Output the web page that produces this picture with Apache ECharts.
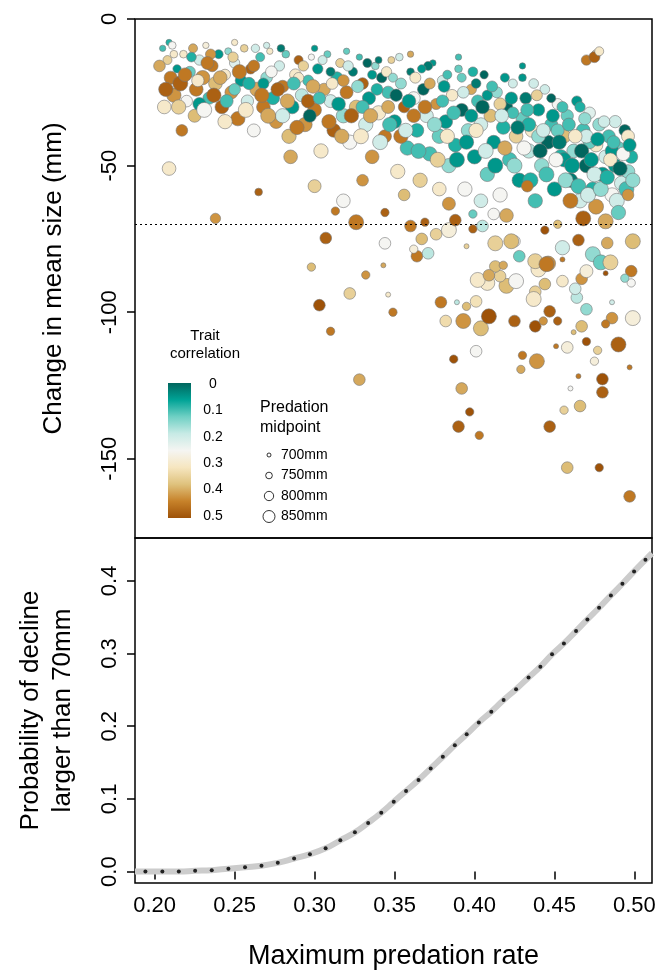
<!DOCTYPE html>
<html>
<head>
<meta charset="utf-8">
<script src="https://cdn.jsdelivr.net/npm/echarts@6/dist/echarts.min.js"></script>
<style>html,body{margin:0;padding:0;background:#fff}#main{width:661px;height:971px}</style>
</head>
<body>
<div id="main"></div>
<script>
// [predation rate, change in mean size, trait correlation, predation midpoint]
var bandPoints = [
[0.205,-10,0.1,720],[0.208,-14,0.35,760],[0.210,-20,0.45,820],[0.212,-26,0.42,840],[0.206,-30,0.3,830],[0.214,-17,0.05,750],[0.209,-8,0.08,720],[0.216,-22,0.48,850],[0.218,-12,0.3,740],[0.220,-28,0.25,800],
[0.222,-18,0.12,790],[0.224,-10,0.4,760],[0.226,-24,0.45,830],[0.225,-33,0.38,820],[0.228,-14,0.2,780],[0.230,-20,0.42,840],[0.232,-9,0.28,720],[0.234,-27,0.1,810],[0.236,-16,0.45,800],[0.238,-22,0.38,830],
[0.240,-12,0.05,760],[0.242,-30,0.48,830],[0.244,-19,0.3,790],[0.246,-11,0.15,730],[0.248,-25,0.42,820],[0.250,-15,0.22,780],[0.252,-34,0.45,840],[0.254,-21,0.05,800],[0.256,-10,0.35,740],[0.258,-28,0.2,810],
[0.260,-17,0.48,780],[0.262,-38,0.25,820],[0.264,-24,0.4,840],[0.266,-13,0.1,760],[0.268,-30,0.45,830],[0.270,-20,0.15,800],[0.272,-11,0.3,720],[0.274,-27,0.08,820],[0.276,-35,0.42,830],[0.278,-16,0.2,780],
[0.280,-23,0.45,810],[0.282,-12,0.12,740],[0.284,-40,0.38,840],[0.286,-30,0.05,830],[0.288,-19,0.3,800],[0.290,-14,0.48,760],[0.292,-26,0.18,820],[0.294,-36,0.42,840],[0.296,-21,0.1,790],[0.298,-13,0.25,720],
[0.300,-31,0.45,830],[0.302,-17,0.05,780],[0.304,-45,0.3,840],[0.306,-24,0.4,810],[0.308,-12,0.12,730],[0.310,-28,0.2,820],[0.312,-38,0.48,830],[0.314,-20,0.08,800],[0.316,-15,0.35,760],[0.318,-33,0.15,840],
[0.320,-25,0.45,820],[0.322,-42,0.25,840],[0.324,-18,0.02,760],[0.326,-30,0.38,830],[0.328,-13,0.1,720],[0.330,-22,0.48,800],[0.332,-36,0.2,840],[0.334,-27,0.05,820],[0.336,-47,0.42,830],[0.338,-16,0.15,740],
[0.340,-32,0.3,840],[0.342,-20,0.0,780],[0.344,-40,0.45,820],[0.346,-25,0.1,810],[0.348,-14,0.35,730],[0.350,-35,0.05,830],[0.352,-52,0.3,840],[0.354,-22,0.15,790],[0.356,-30,0.48,800],[0.358,-44,0.1,840],
[0.360,-18,0.02,740],[0.362,-27,0.25,820],[0.364,-38,0.08,830],[0.366,-55,0.35,840],[0.368,-24,0.0,800],[0.370,-33,0.2,830],[0.372,-46,0.1,840],[0.374,-15,0.05,720],[0.376,-29,0.42,790],[0.378,-40,0.12,840],
[0.380,-21,0.2,780],[0.382,-35,0.05,830],[0.384,-50,0.15,840],[0.386,-26,0.3,800],[0.388,-43,0.08,830],[0.390,-17,0.12,740],[0.392,-31,0.0,820],[0.394,-58,0.25,840],[0.396,-38,0.15,830],[0.398,-24,0.4,780],
[0.400,-47,0.05,840],[0.402,-28,0.1,810],[0.404,-36,0.2,830],[0.406,-19,0.0,750],[0.408,-53,0.12,840],[0.410,-33,0.38,820],[0.412,-42,0.05,830],[0.414,-25,0.15,790],[0.416,-60,0.25,840],[0.418,-37,0.08,830],
[0.420,-30,0.0,810],[0.422,-48,0.1,840],[0.424,-22,0.2,760],[0.426,-40,0.35,830],[0.428,-55,0.05,840],[0.430,-34,0.12,820],[0.432,-27,0.02,800],[0.434,-45,0.18,840],[0.436,-38,0.3,830],[0.438,-62,0.1,840],
[0.440,-31,0.05,810],[0.442,-50,0.15,840],[0.444,-24,0.2,770],[0.446,-42,0.0,830],[0.448,-36,0.1,820],[0.450,-58,0.05,840],[0.452,-29,0.25,790],[0.454,-47,0.08,840],[0.456,-40,0.38,830],[0.458,-33,0.12,810],
[0.460,-55,0.02,840],[0.462,-45,0.15,830],[0.464,-28,0.05,780],[0.466,-62,0.2,840],[0.468,-38,0.1,830],[0.470,-50,0.0,840],[0.472,-32,0.22,800],[0.474,-58,0.08,840],[0.476,-43,0.3,830],[0.478,-36,0.15,820],
[0.480,-53,0.05,840],[0.482,-47,0.2,830],[0.484,-40,0.1,820],[0.486,-60,0.25,840],[0.488,-50,0.05,830],[0.490,-44,0.12,820],[0.492,-56,0.2,840],[0.494,-38,0.0,800],[0.496,-52,0.15,830],[0.498,-47,0.08,820],
[0.212,-12,0.3,740],[0.228,-29,0.05,820],[0.244,-35,0.3,840],[0.262,-16,0.45,800],[0.280,-33,0.2,840],[0.296,-28,0.48,830],[0.318,-21,0.42,800],[0.336,-19,0.05,760],[0.354,-40,0.45,840],[0.372,-22,0.4,790],
[0.392,-20,0.12,760],[0.408,-26,0.05,780],[0.424,-32,0.1,800],[0.440,-40,0.15,830],[0.456,-48,0.05,840],[0.472,-42,0.12,820],[0.488,-35,0.2,810],[0.430,-20,0.05,740],[0.448,-27,0.0,760],[0.466,-30,0.08,780],
[0.235,-12,0.42,780],[0.250,-24,0.12,800],[0.268,-22,0.05,790],[0.290,-20,0.3,780],[0.310,-18,0.02,760],[0.330,-30,0.1,820],[0.346,-30,0.4,820],[0.362,-33,0.45,830],[0.380,-28,0.1,810],[0.398,-33,0.05,820],
[0.416,-29,0.35,810],[0.434,-36,0.08,830],[0.452,-38,0.12,820],[0.470,-40,0.2,830],[0.486,-45,0.05,830],[0.496,-40,0.3,820],[0.470,-14,0.45,780],[0.476,-12,0.3,760],[0.430,-16,0.05,720],[0.390,-13,0.1,720],
[0.360,-12,0.4,720],[0.340,-14,0.02,730],[0.320,-11,0.12,720],[0.300,-10,0.05,720],[0.270,-9,0.2,720],[0.250,-8,0.3,720],[0.460,-62,0.45,850],[0.468,-68,0.48,850],[0.476,-64,0.42,850],[0.482,-69,0.4,850],
[0.203,-16,0.4,800],[0.207,-24,0.48,840],[0.211,-9,0.25,740],[0.215,-30,0.35,840],[0.219,-19,0.45,830],[0.223,-13,0.08,770],[0.227,-21,0.3,810],[0.231,-31,0.25,850],[0.233,-15,0.45,820],[0.237,-26,0.48,840],
[0.241,-20,0.4,830],[0.245,-28,0.1,820],[0.249,-13,0.35,780],[0.253,-18,0.45,840],[0.257,-31,0.3,850],[0.259,-22,0.08,810],[0.263,-10,0.2,750],[0.267,-26,0.45,840],[0.271,-33,0.4,850],[0.273,-18,0.25,800],
[0.277,-24,0.48,830],[0.279,-10,0.02,740],[0.283,-28,0.4,840],[0.287,-22,0.1,820],[0.289,-37,0.45,840],[0.293,-16,0.35,780],[0.297,-33,0.0,820],[0.299,-23,0.4,830],[0.303,-27,0.1,810],[0.305,-14,0.2,760],
[0.309,-35,0.45,840],[0.311,-22,0.3,800],[0.315,-29,0.05,830],[0.317,-40,0.4,840],[0.321,-16,0.2,780],[0.323,-33,0.48,840],[0.327,-23,0.15,810],[0.329,-40,0.3,850],[0.333,-15,0.0,760],[0.335,-33,0.4,840],
[0.339,-24,0.08,800],[0.341,-42,0.2,850],[0.345,-18,0.3,780],[0.347,-36,0.1,840],[0.351,-26,0.0,810],[0.353,-13,0.2,740],[0.357,-38,0.2,840],[0.359,-28,0.05,830],[0.363,-20,0.3,790],[0.365,-45,0.1,850],
[0.369,-30,0.45,830],[0.371,-16,0.02,760],[0.375,-36,0.15,840],[0.377,-48,0.35,850],[0.381,-23,0.05,800],[0.383,-40,0.3,840],[0.387,-32,0.1,830],[0.389,-48,0.05,850],[0.393,-25,0.2,800],[0.395,-42,0.05,840],
[0.399,-18,0.08,770],[0.401,-38,0.3,840],[0.405,-30,0.0,830],[0.407,-45,0.2,850],[0.411,-23,0.1,790],[0.413,-50,0.05,850],[0.417,-33,0.2,830],[0.419,-44,0.4,840],[0.423,-27,0.05,810],[0.425,-50,0.15,850],
[0.427,-37,0.02,830],[0.431,-44,0.25,840],[0.433,-31,0.1,820],[0.435,-55,0.08,850],[0.439,-26,0.35,790],[0.441,-45,0.0,840],[0.443,-38,0.2,830],[0.445,-53,0.1,850],[0.449,-33,0.05,820],[0.451,-48,0.25,840],
[0.453,-42,0.02,840],[0.457,-55,0.15,850],[0.459,-36,0.1,820],[0.461,-50,0.05,850],[0.463,-40,0.3,830],[0.465,-57,0.1,850],[0.467,-45,0.0,840],[0.469,-34,0.15,810],[0.471,-60,0.2,850],[0.473,-48,0.05,840],
[0.475,-53,0.2,850],[0.477,-41,0.05,830],[0.479,-58,0.15,850],[0.481,-35,0.2,800],[0.483,-54,0.08,840],[0.485,-48,0.3,830],[0.487,-42,0.1,820],[0.489,-62,0.2,850],[0.491,-51,0.0,840],[0.493,-46,0.25,830],
[0.495,-58,0.1,850],[0.497,-43,0.05,820],[0.499,-55,0.15,840],[0.455,-30,0.1,790],[0.437,-22,0.2,770],[0.419,-20,0.05,760],[0.401,-22,0.02,770],[0.383,-19,0.1,760],[0.367,-17,0.05,750],[0.349,-20,0.15,760]
];
var sparsePoints = [
[0.307,-74.7,0.48,800],[0.344,-76.5,0.25,800],[0.298,-84.6,0.38,750],[0.332,-87.3,0.42,750],[0.343,-84,0.40,700],[0.322,-93.6,0.35,800],[0.346,-94,0.30,700],[0.303,-97.6,0.5,800],[0.349,-100,0.45,750],[0.310,-106.5,0.45,750],
[0.328,-123,0.40,800],[0.379,-96.6,0.45,800],[0.389,-96.6,0.18,700],[0.395,-98,0.38,750],[0.401,-96.3,0.32,800],[0.382,-103,0.33,800],[0.393,-103,0.42,850],[0.404,-105.5,0.38,850],[0.409,-101.4,0.5,850],[0.425,-103,0.48,800],
[0.438,-104.8,0.5,800],[0.443,-103,0.42,750],[0.452,-103,0.48,750],[0.447,-99.7,0.48,800],[0.467,-104.8,0.38,800],[0.462,-106.8,0.38,700],[0.470,-110,0.5,750],[0.451,-111.6,0.45,700],[0.458,-112,0.28,800],[0.477,-113,0.35,750],
[0.490,-111,0.48,850],[0.475,-116.7,0.28,750],[0.486,-102,0.42,800],[0.499,-102,0.28,850],[0.482,-104,0.45,750],[0.401,-113.3,0.25,800],[0.387,-116,0.5,750],[0.430,-114.7,0.45,750],[0.439,-116.7,0.42,850],[0.429,-119.5,0.4,750],
[0.465,-121.8,0.45,700],[0.480,-122.8,0.5,800],[0.480,-127.3,0.48,800],[0.460,-126,0.25,700],[0.497,-118.8,0.45,700],[0.392,-126,0.40,800],[0.466,-132,0.38,800],[0.456,-133.4,0.35,750],[0.397,-134,0.5,750],[0.390,-139,0.48,800],
[0.403,-142,0.45,750],[0.447,-139,0.48,800],[0.458,-153,0.38,800],[0.478,-153,0.5,750],[0.497,-162.8,0.45,800],[0.498,-86,0.45,800],[0.498,-90,0.25,750],[0.486,-96.6,0.2,700],[0.470,-99,0.15,800],[0.464,-95,0.18,800],
[0.463,-92,0.2,800],[0.455,-89.4,0.3,800],[0.467,-88.6,0.42,800],[0.444,-90.4,0.38,800],[0.438,-93,0.35,800],[0.437,-95.5,0.30,850],[0.420,-91,0.38,850],[0.426,-89.4,0.25,850],[0.408,-90,0.30,850],[0.402,-89,0.30,850],
[0.416,-87.7,0.35,800],[0.413,-84.4,0.38,800],[0.418,-84,0.40,750],[0.409,-87.4,0.4,800],[0.440,-85.4,0.3,850],[0.446,-83.4,0.42,850],[0.428,-80.9,0.12,800],[0.438,-82.6,0.35,850],[0.455,-82,0.45,700],[0.425,-75.8,0.25,800],
[0.423,-75.8,0.38,850],[0.413,-76.5,0.35,850],[0.445,-83.6,0.45,850],[0.395,-77.5,0.35,700],[0.364,-80.9,0.45,800],[0.371,-79.9,0.18,800],[0.362,-78.5,0.28,750],[0.367,-75,0.38,800],[0.376,-73.4,0.35,800],[0.384,-72,0.28,850],
[0.360,-70.6,0.45,800],[0.369,-69.3,0.48,750],[0.388,-68.6,0.48,800],[0.399,-71.6,0.48,750],[0.405,-70.6,0.18,800],[0.465,-75.4,0.48,800],[0.474,-80.2,0.15,850],[0.479,-83,0.12,850],[0.485,-83,0.35,850],[0.483,-76.4,0.40,800],
[0.482,-86.7,0.5,700],[0.494,-88.4,0.15,750],[0.499,-75.8,0.38,850],[0.444,-72,0.5,750],[0.452,-70,0.38,750],[0.326,-69.3,0.45,850],[0.313,-65.5,0.45,750],[0.344,-66,0.48,750],[0.412,-66.5,0.25,800],[0.399,-66.5,0.12,750],
[0.238,-68,0.42,780],[0.209,-51,0.3,830],[0.217,-38,0.45,800],[0.265,-59,0.48,740],[0.285,-47,0.4,830],[0.300,-57,0.35,820],[0.330,-55,0.42,800],[0.318,-62,0.25,830],[0.475,-13,0.48,790],[0.478,-11,0.3,760],
[0.356,-60,0.38,800],[0.378,-58,0.3,830],[0.404,-62,0.2,830],[0.433,-57,0.45,800],[0.490,-66,0.12,840],[0.496,-60,0.42,800],[0.455,-78,0.2,840],[0.470,-86,0.28,820],[0.384,-63,0.42,820],[0.420,-67,0.4,830]
];
var curveX = [0.1942,0.2048,0.2151,0.2253,0.2357,0.2461,0.2565,0.2668,0.2770,0.2872,0.2971,0.3069,0.3161,0.3252,0.3335,0.3417,0.3495,0.3572,0.3650,0.3726,0.3802,0.3877,0.3951,0.4027,0.4105,0.4182,0.4260,0.4338,0.4412,0.4485,0.4559,0.4635,0.4706,0.4779,0.4853,0.4925,0.4998,0.5069];
var curveY = [0,0,0,0.001,0.002,0.004,0.006,0.008,0.012,0.018,0.024,0.032,0.043,0.054,0.067,0.081,0.096,0.111,0.126,0.142,0.158,0.174,0.189,0.205,0.220,0.236,0.251,0.267,0.282,0.299,0.314,0.331,0.347,0.363,0.380,0.396,0.413,0.429];
var xTicks = [0.20,0.25,0.30,0.35,0.40,0.45,0.50];
var sizeTicks = [700,750,800,850];
var corrTicks = [0,0.1,0.2,0.3,0.4,0.5];

var corrColors = ['#01665e','#00a396','#6fd0c4','#c7eae5','#f5f5f2','#f6e6c0','#dfc27d','#c7822a','#9e5208'];
function symSize(m) { return 5 + (m - 700) / 150 * 10; }

var curvePts = [];
for (var i = 0; i < curveX.length; i++) curvePts.push([curveX[i], curveY[i]]);
var linePts = [[0.1877, 0]].concat(curvePts).concat([[0.511, 0.438]]);

var allPts = bandPoints.concat(sparsePoints);
var font = 'Liberation Sans, Arial, sans-serif';

var graphics = [
    {type: 'text', x: 205, y: 327, style: {text: 'Trait\ncorrelation', font: '15px ' + font, fill: '#000', textAlign: 'center', lineHeight: 18}},
    {type: 'rect', shape: {x: 168, y: 383, width: 23, height: 135}, style: {fill: {type: 'linear', x: 0, y: 0, x2: 0, y2: 1, colorStops: corrColors.map(function (c, i) { return {offset: i / (corrColors.length - 1), color: c}; })}}},
    {type: 'text', x: 260, y: 398, style: {text: 'Predation\nmidpoint', font: '16px ' + font, fill: '#000', lineHeight: 20}}
];
for (var k = 0; k < corrTicks.length; k++) {
    graphics.push({type: 'text', x: 213, y: 384 + k * 26.4, style: {text: String(corrTicks[k]), font: '14px ' + font, fill: '#000', textAlign: 'center', textVerticalAlign: 'middle'}});
}
for (var s = 0; s < sizeTicks.length; s++) {
    var cy = 455 + s * 20.5;
    graphics.push({type: 'circle', shape: {cx: 269, cy: cy, r: (sizeTicks[s] - 700) / 150 * 4 + 2}, style: {fill: '#fff', stroke: '#000', lineWidth: 0.8}});
    graphics.push({type: 'text', x: 281, y: cy, style: {text: sizeTicks[s] + 'mm', font: '14px ' + font, fill: '#000', textVerticalAlign: 'middle'}});
}

var chart = echarts.init(document.getElementById('main'));
chart.setOption({
    animation: false,
    grid: [
        {left: 135, top: 19, width: 517, height: 519, outerBoundsMode: 'none', show: true, borderColor: '#000', borderWidth: 1.5, backgroundColor: 'transparent'},
        {left: 135, top: 538, width: 517, height: 345, outerBoundsMode: 'none', show: true, borderColor: '#000', borderWidth: 1.5, backgroundColor: 'transparent'}
    ],
    xAxis: [
        {gridIndex: 0, type: 'value', min: 0.1877, max: 0.511, axisLine: {show: false}, axisTick: {show: false}, axisLabel: {show: false}, splitLine: {show: false}},
        {gridIndex: 1, type: 'value', min: 0.1877, max: 0.511, axisLine: {show: false},
         axisTick: {show: true, inside: false, length: 8, customValues: xTicks, lineStyle: {color: '#000', width: 1.5}},
         axisLabel: {customValues: xTicks, color: '#000', fontSize: 22, fontFamily: font, margin: 12, formatter: function (v) { return v.toFixed(2); }},
         splitLine: {show: false},
         name: 'Maximum predation rate', nameLocation: 'middle', nameGap: 60, nameTextStyle: {fontSize: 27, color: '#000', fontFamily: font}}
    ],
    yAxis: [
        {gridIndex: 0, type: 'value', min: -177, max: 0, interval: 50,
         axisLine: {show: false}, axisTick: {show: true, length: 8, customValues: [0, -50, -100, -150], lineStyle: {color: '#000', width: 1.5}},
         axisLabel: {customValues: [0, -50, -100, -150], rotate: 90, color: '#000', fontSize: 22, fontFamily: font, margin: 14},
         splitLine: {show: false},
         name: 'Change in mean size (mm)', nameLocation: 'middle', nameGap: 68, nameTextStyle: {fontSize: 26, color: '#000', fontFamily: font}},
        {gridIndex: 1, type: 'value', min: -0.0157, max: 0.459,
         axisLine: {show: false}, axisTick: {show: true, length: 8, customValues: [0, 0.1, 0.2, 0.3, 0.4], lineStyle: {color: '#000', width: 1.5}},
         axisLabel: {customValues: [0, 0.1, 0.2, 0.3, 0.4], rotate: 90, color: '#000', fontSize: 22, fontFamily: font, margin: 14, formatter: function (v) { return v.toFixed(1); }},
         splitLine: {show: false},
         name: 'Probability of decline\nlarger than 70mm', nameLocation: 'middle', nameGap: 56, nameTextStyle: {fontSize: 26, color: '#000', fontFamily: font, lineHeight: 32}}
    ],
    visualMap: {show: false, type: 'continuous', min: 0, max: 0.5, dimension: 2, seriesIndex: 0, inRange: {color: corrColors}},
    series: [
        {type: 'scatter', xAxisIndex: 0, yAxisIndex: 0, data: allPts,
         symbolSize: function (d) { return symSize(d[3]); },
         itemStyle: {borderColor: '#777', borderWidth: 0.6, opacity: 1},
         markLine: {silent: true, symbol: 'none', label: {show: false}, lineStyle: {color: '#000', type: [2, 3], width: 1.2}, data: [{yAxis: -70}]}},
        {type: 'line', xAxisIndex: 1, yAxisIndex: 1, data: linePts, smooth: true, showSymbol: false, z: 2, lineStyle: {color: '#cccccc', width: 6}},
        {type: 'line', xAxisIndex: 1, yAxisIndex: 1, data: curvePts, z: 5, showSymbol: true, symbol: 'circle', symbolSize: 4, lineStyle: {width: 0}, itemStyle: {color: '#222', borderWidth: 0}}
    ],
    graphic: graphics
});
</script>
</body>
</html>
